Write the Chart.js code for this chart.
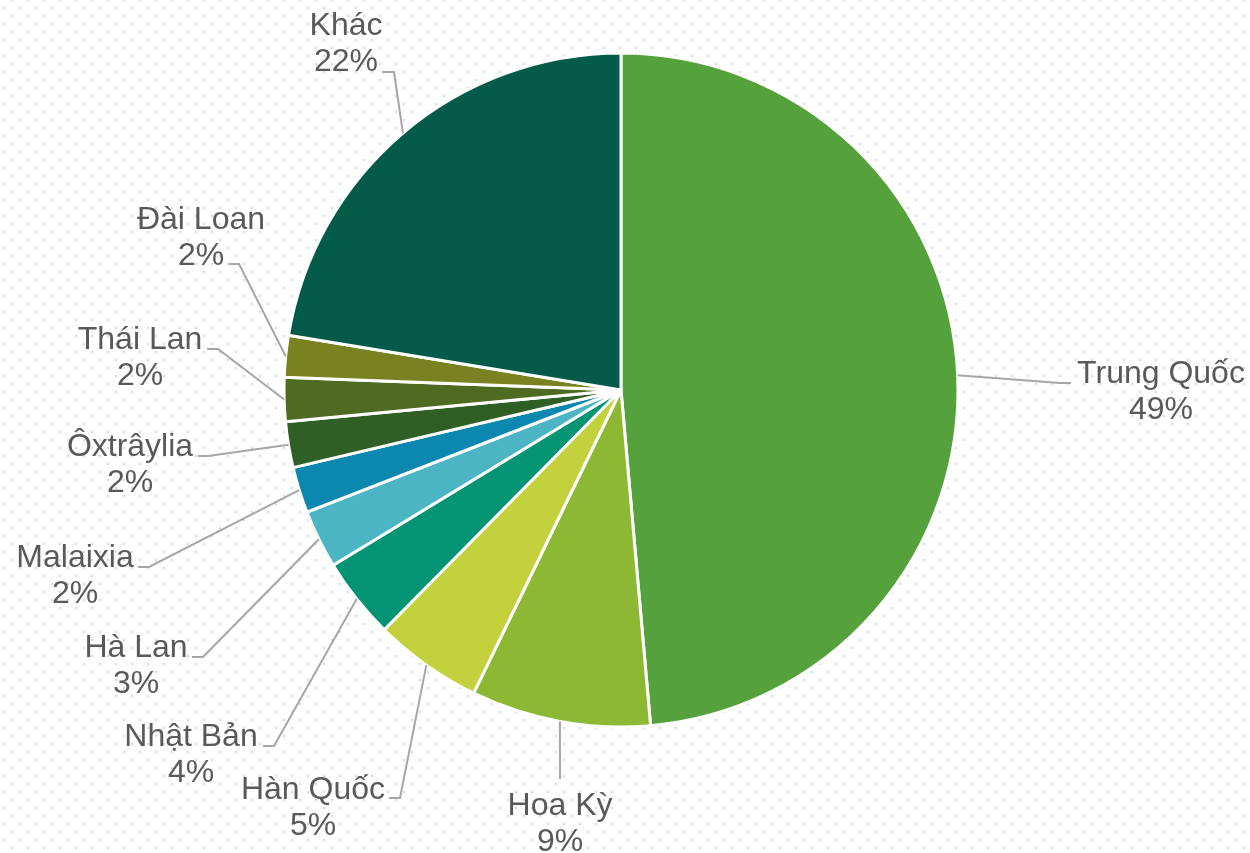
<!DOCTYPE html>
<html>
<head>
<meta charset="utf-8">
<script src="https://cdn.jsdelivr.net/npm/chart.js@4/dist/chart.umd.min.js"></script>
<style>
    html, body { margin: 0; padding: 0; background: #ffffff; }
    canvas { display: block; }
</style>
</head>
<body>
<canvas id="chart" width="1250" height="853"></canvas>
<script>
// data, clockwise from 12 o'clock
var countries = ["Trung Quốc", "Hoa Kỳ", "Hàn Quốc", "Nhật Bản", "Hà Lan",
                 "Malaixia", "Ôxtrâylia", "Thái Lan", "Đài Loan", "Khác"];
var shares = [48.6, 8.6, 5.2, 3.9, 2.8, 2.2, 2.2, 2.1, 2.0, 22.4];
var sliceColors = ["#55A13B", "#8CB834", "#C2D13C", "#039473", "#4BB5C4",
                   "#0C87B0", "#2F5F25", "#4F6B22", "#7A8121", "#025B48"];

// where each label sits (x = centre of text, y = baseline of first line)
// and where its leader line bends and ends
var labelLayout = [
    {x: 1161, y: 383, elbow: [1060, 383], end: [1071, 383]},
    {x: 560,  y: 815, elbow: [560, 779],  end: null},
    {x: 313,  y: 799, elbow: [400, 798],  end: [389, 798]},
    {x: 191,  y: 746, elbow: [274, 746],  end: [263, 746]},
    {x: 136,  y: 657, elbow: [203, 657],  end: [192, 657]},
    {x: 75,   y: 567, elbow: [149, 567],  end: [138, 567]},
    {x: 130,  y: 456, elbow: [208, 456],  end: [198, 456]},
    {x: 140,  y: 349, elbow: [218, 349],  end: [207, 349]},
    {x: 201,  y: 229, elbow: [239, 264],  end: [229, 264]},
    {x: 346,  y: 35,  elbow: [394, 72],   end: [382, 72]}
];

var LABEL_FONT = '32px "Liberation Sans", Arial, sans-serif';
var LINE_GAP = 36;

var dotBackground = {
    id: 'dotBackground',
    beforeDraw: function(chart) {
        var ctx = chart.ctx;
        ctx.save();
        ctx.fillStyle = '#ffffff';
        ctx.fillRect(0, 0, chart.width, chart.height);
        ctx.fillStyle = '#CDD8F3';
        var row = 0;
        for (var y = -1; y < chart.height; y += 8, row++) {
            var x0 = (row % 2) ? 3 : 11;
            for (var x = x0; x < chart.width; x += 16) {
                ctx.fillRect(x, y, 2, 2);
            }
        }
        ctx.restore();
    }
};

var leaderLabels = {
    id: 'leaderLabels',
    afterDatasetsDraw: function(chart) {
        var ctx = chart.ctx;
        var meta = chart.getDatasetMeta(0);
        ctx.save();
        meta.data.forEach(function(arc, i) {
            var lay = labelLayout[i];
            var mid = (arc.startAngle + arc.endAngle) / 2;
            var sx = arc.x + Math.cos(mid) * arc.outerRadius;
            var sy = arc.y + Math.sin(mid) * arc.outerRadius;
            ctx.strokeStyle = '#A6A6A6';
            ctx.lineWidth = 2;
            ctx.beginPath();
            ctx.moveTo(sx, sy);
            ctx.lineTo(lay.elbow[0], lay.elbow[1]);
            if (lay.end) {
                ctx.lineTo(lay.end[0], lay.end[1]);
            }
            ctx.stroke();

            ctx.fillStyle = '#595959';
            ctx.font = LABEL_FONT;
            ctx.textAlign = 'center';
            ctx.textBaseline = 'alphabetic';
            ctx.fillText(chart.data.labels[i], lay.x, lay.y);
            ctx.fillText(Math.round(shares[i]) + '%', lay.x, lay.y + LINE_GAP);
        });
        ctx.restore();
    }
};

new Chart(document.getElementById('chart'), {
    type: 'pie',
    data: {
        labels: countries,
        datasets: [{
            data: shares,
            backgroundColor: sliceColors,
            borderColor: '#ffffff',
            borderWidth: 3
        }]
    },
    options: {
        responsive: false,
        animation: false,
        radius: 337,
        layout: {padding: {left: 0, right: 8, top: 0, bottom: 73}},
        plugins: {
            legend: {display: false},
            tooltip: {enabled: false}
        }
    },
    plugins: [dotBackground, leaderLabels]
});
</script>
</body>
</html>
